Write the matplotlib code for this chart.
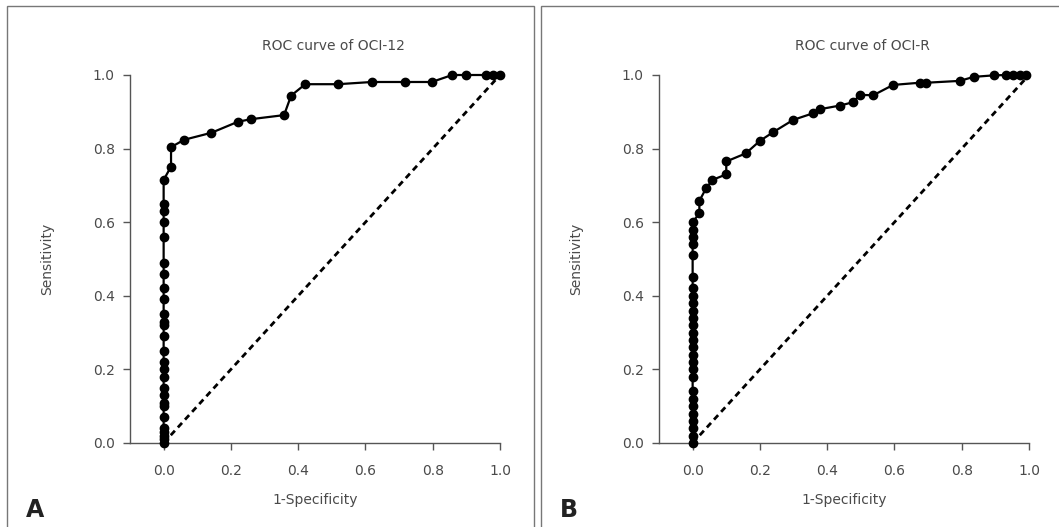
import matplotlib.pyplot as plt
from matplotlib.patches import Rectangle

# ROC points for OCI-12 (panel A)
fpr_a = [0.0] * 27 + [0.022, 0.022, 0.061, 0.142, 0.221, 0.26, 0.358, 0.379, 0.421,
                      0.518, 0.619, 0.718, 0.797, 0.858, 0.898, 0.957, 0.98, 1.0]
tpr_a = [0.0, 0.01, 0.02, 0.03, 0.04, 0.07, 0.10, 0.11, 0.13, 0.15, 0.18, 0.20, 0.22,
         0.25, 0.29, 0.32, 0.33, 0.35, 0.39, 0.42, 0.46, 0.49, 0.56, 0.60, 0.63, 0.65,
         0.715, 0.751, 0.804, 0.824, 0.843, 0.873, 0.88, 0.891, 0.944, 0.975,
         0.975, 0.981, 0.981, 0.981, 1.0, 1.0, 1.0, 1.0, 1.0]

# ROC points for OCI-R (panel B)
fpr_b = [0.0] * 27 + [0.02, 0.02, 0.04, 0.059, 0.10, 0.10, 0.158, 0.20, 0.24, 0.299,
                      0.358, 0.378, 0.438, 0.477, 0.497, 0.537, 0.596, 0.675, 0.695,
                      0.794, 0.836, 0.895, 0.933, 0.952, 0.972, 0.99]
tpr_b = [0.0, 0.02, 0.04, 0.06, 0.08, 0.10, 0.12, 0.14, 0.18, 0.20, 0.22, 0.24, 0.26,
         0.28, 0.30, 0.32, 0.34, 0.36, 0.38, 0.40, 0.42, 0.45, 0.51, 0.54, 0.56, 0.58,
         0.60, 0.624, 0.658, 0.692, 0.715, 0.730, 0.765, 0.787, 0.821, 0.845, 0.878,
         0.896, 0.907, 0.917, 0.926, 0.946, 0.945, 0.973, 0.979, 0.979, 0.984, 0.995,
         0.999, 1.0, 1.0, 1.0, 1.0]

ticks = [0.0, 0.2, 0.4, 0.6, 0.8, 1.0]
tick_labels = ['0.0', '0.2', '0.4', '0.6', '0.8', '1.0']

W, H = 1059, 527
fig = plt.figure(figsize=(W / 100, H / 100), dpi=100)
fig.patch.set_facecolor('white')

grey = '#4a4a4a'
plt.rcParams['font.family'] = ['DejaVu Sans']


def panel(left_px, fpr, tpr, title, letter, box):
    # box around the panel (bottom edge runs off the image)
    bx0, bx1 = box
    fig.patches.append(Rectangle((bx0 / W, -0.1), (bx1 - bx0) / W, (H - 6) / H + 0.1,
                                 transform=fig.transFigure, fill=False,
                                 edgecolor='#777777', linewidth=1.0))
    ax = fig.add_axes([left_px / W, (H - 443) / H, 370 / W, 368 / H])
    ax.plot(fpr, tpr, color='black', lw=1.6, marker='o', ms=6, zorder=3)
    ax.plot([0, 1], [0, 1], color='black', lw=2, ls=(0, (2.2, 1.6)), zorder=2)
    ax.set_xlim(-0.1, 1.0)
    ax.set_ylim(0, 1.0)
    ax.set_xticks(ticks)
    ax.set_xticklabels(tick_labels)
    ax.set_yticks(ticks)
    ax.set_yticklabels(tick_labels)
    for s in ['top', 'right']:
        ax.spines[s].set_visible(False)
    for s in ['left', 'bottom']:
        ax.spines[s].set_color('#555555')
        ax.spines[s].set_linewidth(1.0)
    ax.tick_params(colors='#555555', labelcolor=grey, labelsize=10, length=5, width=1.0)
    ax.tick_params(axis='x', pad=10)
    ax.tick_params(axis='y', pad=6)
    ax.set_xlabel('1-Specificity', color=grey, fontsize=10, labelpad=11)
    ax.set_ylabel('Sensitivity', color=grey, fontsize=10, labelpad=28)
    ax.set_title(title, color=grey, fontsize=10, pad=18, x=0.55)
    for ln in ax.lines:
        ln.set_clip_on(False)
    fig.text((box[0] + 19) / W, (H - 517) / H, letter, fontsize=17,
             fontweight='bold', color='#222222')
    return ax


panel(130, fpr_a, tpr_a, 'ROC curve of OCI-12', 'A', (7, 534))
panel(659, fpr_b, tpr_b, 'ROC curve of OCI-R', 'B', (541, 1070))

fig.savefig('out.png', dpi=100)
